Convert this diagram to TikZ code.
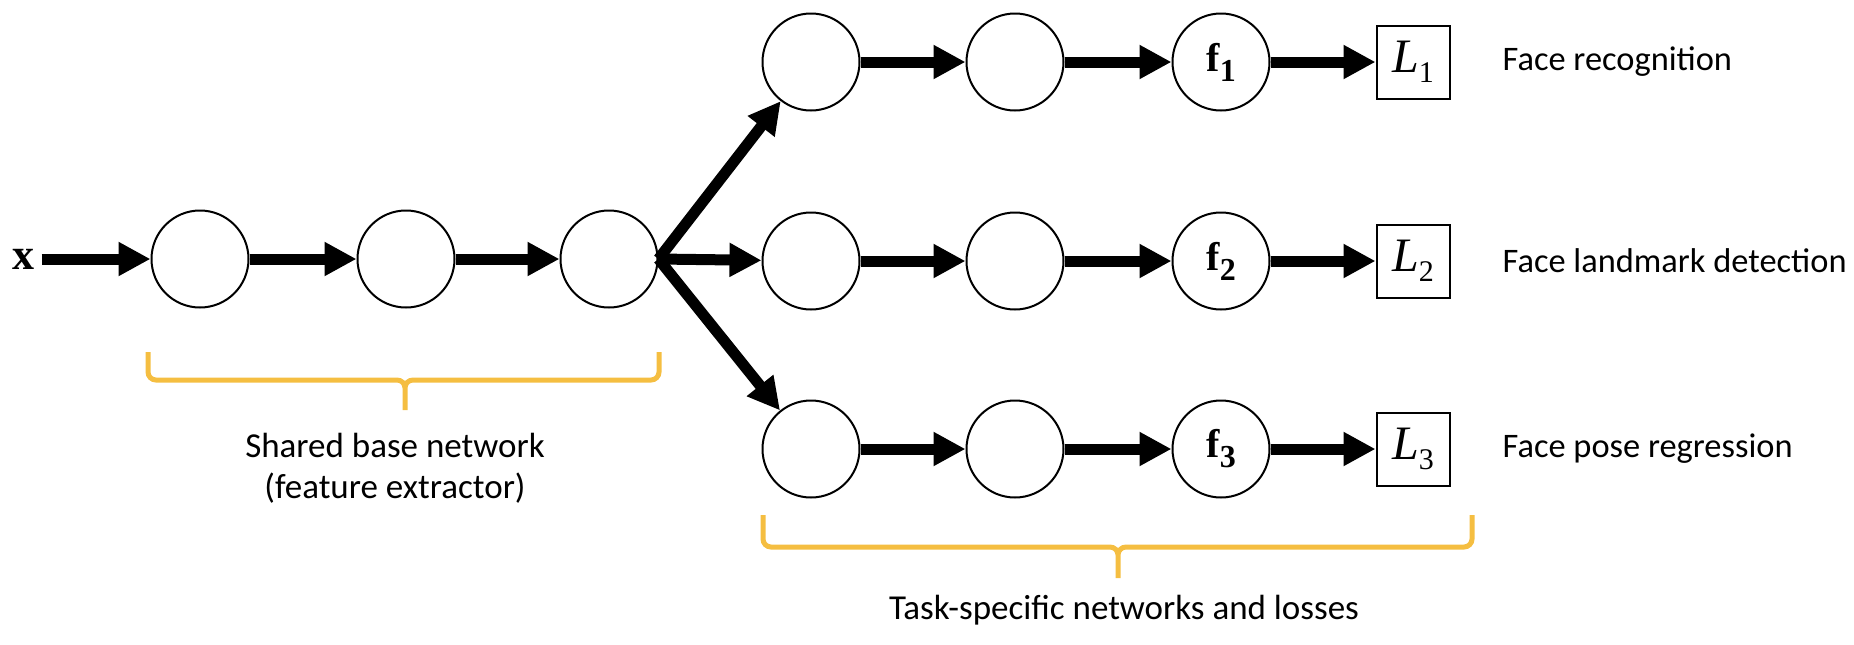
\documentclass[tikz,border=0pt]{standalone}
\usepackage{fontspec}
\setmainfont{Liberation Serif}
\newfontfamily\labelfont{Carlito}
\usetikzlibrary{arrows.meta}
\definecolor{braceyellow}{RGB}{245,190,65}
\newcommand{\featsym}[1]{{\fontsize{20}{20}\selectfont\textbf{f}\raisebox{-5pt}{\fontsize{16}{16}\selectfont\textbf{#1}}}}
\newcommand{\losssym}[1]{{\fontsize{24}{24}\selectfont\textit{L}\raisebox{-5pt}{\fontsize{15}{15}\selectfont #1}}}

\begin{document}
\begin{tikzpicture}[x=0.5pt,y=-0.5pt,line width=1pt,
		neuron/.style={draw,circle,minimum size=48.5pt,inner sep=0pt},
		lossbox/.style={draw,minimum size=36.5pt,inner sep=0pt},
		flow/.style={line width=5.5pt,-{Triangle[length=16pt,width=16pt]}},
		task/.style={anchor=west,font=\labelfont\fontsize{17.2}{20}\selectfont},
		caption/.style={align=center,font=\labelfont\fontsize{17.5}{20.5}\selectfont},
		brace/.style={braceyellow,line width=2.5pt,rounded corners=4pt}]
			\useasboundingbox (0,0) rectangle (1854,644);
			\node (x) at (23,259) {\fontsize{22}{22}\selectfont\textbf{x}};
			\node[neuron] (b1) at (200,259) {};
			\node[neuron] (b2) at (406,259) {};
			\node[neuron] (b3) at (609,259) {};
			\coordinate (split) at (b3.east);
			\node[neuron] (a1) at (811,62) {};
			\node[neuron] (a2) at (1015,62) {};
			\node[neuron] (fa) at (1221,62) {\featsym{1}};
			\node[lossbox] (La) at (1413,62) {\losssym{1}};
			\node[task] (ta) at (1495,62) {Face recognition};
			\node[neuron] (m1) at (811,261) {};
			\node[neuron] (m2) at (1015,261) {};
			\node[neuron] (fm) at (1221,261) {\featsym{2}};
			\node[lossbox] (Lm) at (1413,261) {\losssym{2}};
			\node[task] (tm) at (1495,261) {Face landmark detection};
			\node[neuron] (c1) at (811,449) {};
			\node[neuron] (c2) at (1015,449) {};
			\node[neuron] (fc) at (1221,449) {\featsym{3}};
			\node[lossbox] (Lc) at (1413,449) {\losssym{3}};
			\node[task] (tc) at (1495,449) {Face pose regression};
			\draw[flow] (x)--(b1);
			\draw[flow] (b1)--(b2);
			\draw[flow] (b2)--(b3);
			\draw[flow] (split)--(a1);
			\draw[flow] (split)--(m1);
			\draw[flow] (split)--(c1);
			\draw[flow] (a1)--(a2);
			\draw[flow] (a2)--(fa);
			\draw[flow] (fa)--(La);
			\draw[flow] (m1)--(m2);
			\draw[flow] (m2)--(fm);
			\draw[flow] (fm)--(Lm);
			\draw[flow] (c1)--(c2);
			\draw[flow] (c2)--(fc);
			\draw[flow] (fc)--(Lc);
			\draw[brace] (148,352)--(148,380)--(405,380)--(405,410) (659,352)--(659,380)--(405,380)--(405,410);
			\draw[brace] (763,515)--(763,547)--(1118,547)--(1118,578) (1472,515)--(1472,547)--(1118,547)--(1118,578);
			\node[caption] (shared) at (395,468) {Shared base network\\(feature extractor)};
			\node[caption] (specific) at (1124,610) {Task-specific networks and losses};
		\end{tikzpicture}
\end{document}
